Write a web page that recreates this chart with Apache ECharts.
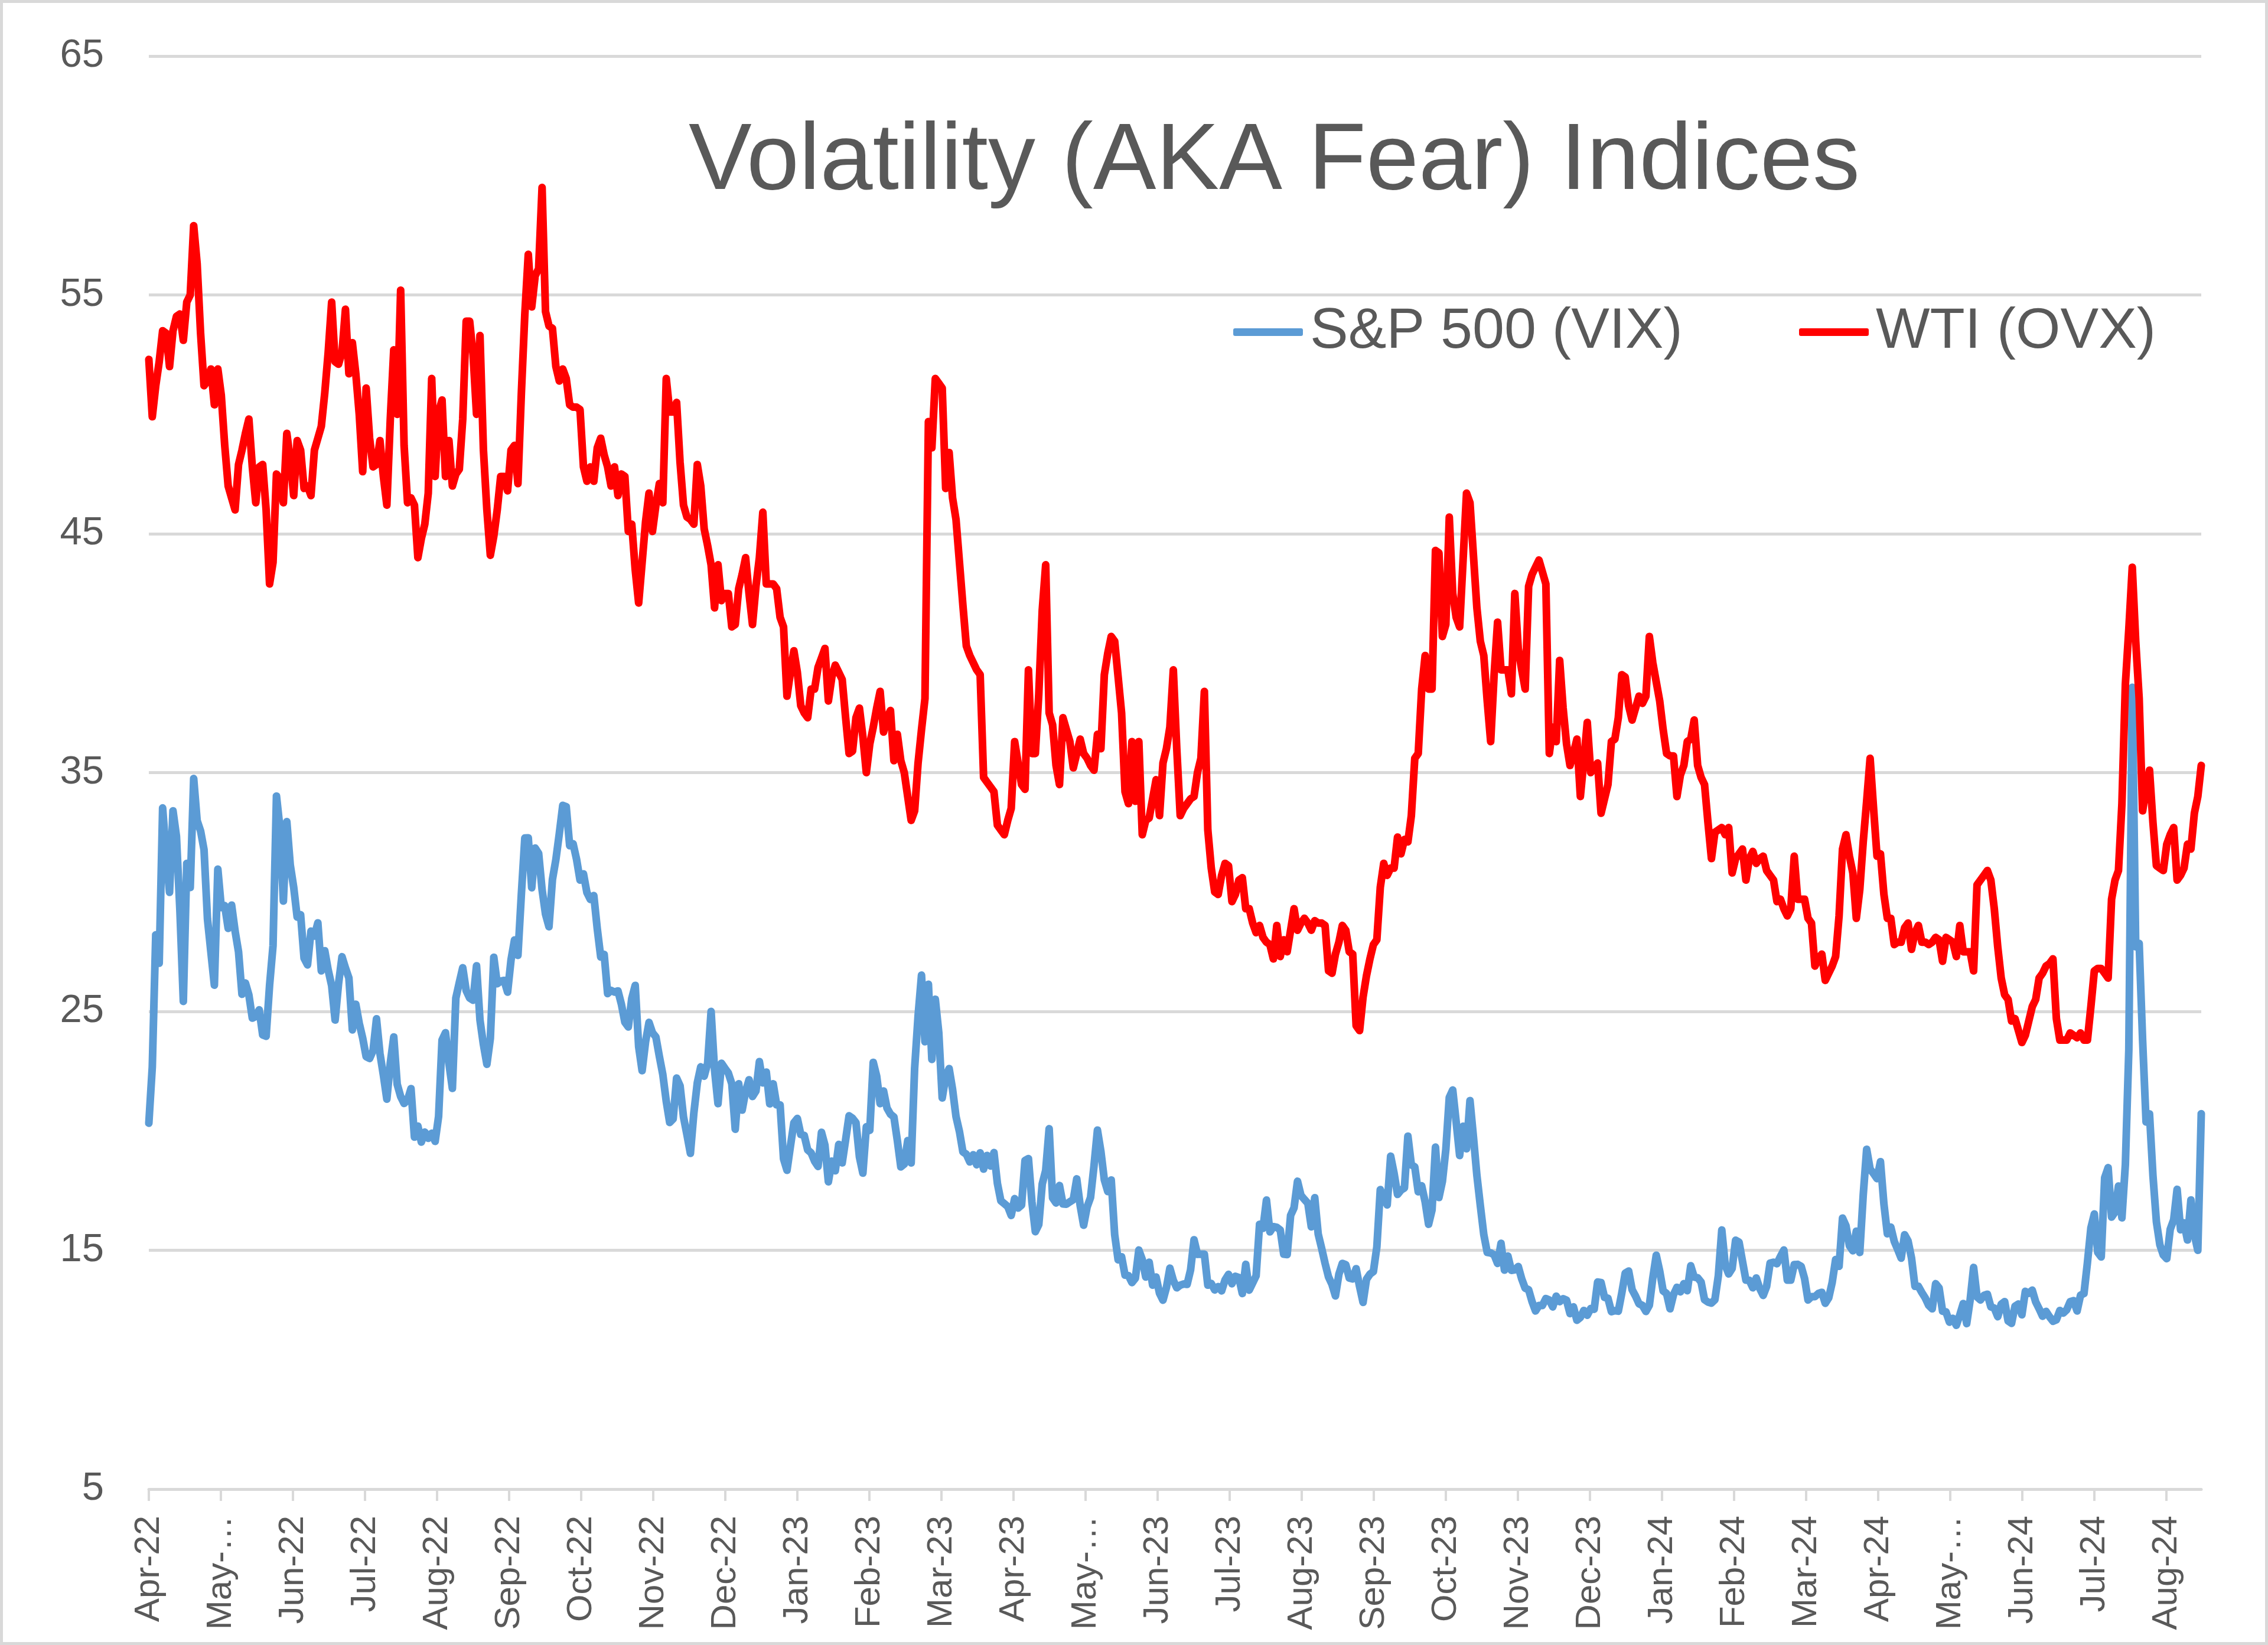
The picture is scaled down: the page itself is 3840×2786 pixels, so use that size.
<!DOCTYPE html>
<html><head><meta charset="utf-8">
<script src="https://cdn.jsdelivr.net/npm/echarts@6/dist/echarts.min.js"></script>
<style>html,body{margin:0;padding:0;background:#fff}#c{width:3840px;height:2786px}</style>
</head><body><div id="c"></div>
<script>
// Month tick labels along the x axis
const tickLabels = ["Apr-22","May-…","Jun-22","Jul-22","Aug-22","Sep-22","Oct-22","Nov-22","Dec-22",
  "Jan-23","Feb-23","Mar-23","Apr-23","May-…","Jun-23","Jul-23","Aug-23","Sep-23","Oct-23","Nov-23","Dec-23",
  "Jan-24","Feb-24","Mar-24","Apr-24","May-…","Jun-24","Jul-24","Aug-24"];
// spacing of the month ticks, in data points
const tickStep = 20.89;

// S&P 500 volatility (VIX), daily
const vix2022 = [
 20.32,22.68,28.21,27.02,33.52,31.60,29.99,33.40,
 32.34,29.25,25.42,31.20,30.19,34.75,32.99,32.56,31.77,28.87,27.47,26.10,30.96,29.35,29.43,28.48,29.45,28.37,27.50,25.72,26.19,
 25.69,24.72,24.79,25.07,24.02,23.96,26.09,27.75,34.02,32.69,29.62,32.95,31.13,30.19,28.95,29.05,27.23,26.95,28.36,28.16,28.71,
 26.70,27.54,26.73,26.08,24.64,26.17,27.29,26.82,26.40,24.23,25.30,24.50,23.88,23.11,23.03,23.36,24.69,23.24,22.33,21.33,
 22.84,23.93,21.95,21.44,21.15,21.29,21.77,19.74,20.20,19.53,19.95,19.69,19.90,19.56,20.60,23.80,24.11,22.82,21.78,25.56,26.21,26.83,25.87,
 25.56,25.47,26.91,24.64,23.61,22.79,23.87,27.27,26.16,26.27,26.30,25.81,27.16,27.99,27.35,29.92,32.26,32.27,30.18,31.84,31.62,
 30.10,29.07,28.55,30.52,31.36,32.45,33.63,33.57,31.94,32.02,31.37,30.50,30.76,29.98,29.69,29.85,28.46,27.28,27.39,25.75,25.88,
 25.81,25.86,25.30,24.55,24.35,25.54,26.09,23.53,22.52,23.73,24.54,24.11,23.93,23.12,22.36,21.24,20.35,20.50,22.21,21.89,20.58,
 19.84,19.06,20.75,22.01,22.68,22.29,22.83,25.00,22.55,21.14,22.83,22.62,22.42,21.97,20.07,21.97,20.87,21.65,22.14,21.44,21.67];
const vix2023 = [
 22.90,22.01,22.46,21.13,21.97,21.09,21.09,18.83,18.35,19.36,20.34,20.52,19.85,19.81,19.20,19.08,18.73,18.51,19.94,19.40,
 17.87,18.73,18.33,19.43,18.66,19.63,20.63,20.53,20.34,18.91,18.23,20.17,20.02,22.87,22.29,21.14,21.67,20.95,20.70,
 20.58,19.59,18.49,18.61,19.59,18.66,22.61,24.80,26.52,23.73,26.14,22.99,25.51,24.12,21.38,22.26,22.61,21.74,20.60,19.97,19.12,19.02,18.70,
 19.00,18.58,19.08,18.40,18.97,18.53,19.09,17.80,17.07,16.95,16.83,16.46,17.16,16.77,16.89,18.76,18.84,17.03,15.78,
 16.08,17.78,18.34,20.09,17.19,16.98,17.71,16.94,16.93,17.03,17.12,17.99,16.87,16.05,16.81,17.21,18.53,20.03,19.14,17.95,17.46,17.94,
 15.65,14.60,14.73,13.96,13.94,13.65,13.83,15.01,14.61,13.88,14.50,13.54,13.88,13.20,12.91,13.44,14.25,13.74,13.43,13.54,13.59,
 13.57,14.18,15.44,14.83,14.84,14.84,13.54,13.61,13.34,13.48,13.30,13.76,13.99,13.60,13.91,13.86,13.19,14.41,13.33,13.63,
 13.93,16.09,15.92,17.10,15.77,15.99,15.96,15.85,14.84,14.82,16.46,16.78,17.89,17.30,17.13,16.97,15.98,17.20,15.68,15.08,14.45,13.88,13.57,
 13.09,14.00,14.45,14.40,13.84,13.80,14.23,13.48,12.82,13.79,14.00,14.11,15.14,17.54,17.20,16.90,18.94,18.22,17.34,17.52,
 17.61,19.78,18.58,18.49,17.45,17.70,17.03,16.09,16.69,19.32,17.21,17.88,19.22,21.40,21.71,20.37,18.97,20.19,19.25,21.27,19.75,18.14,
 16.87,15.66,14.91,14.89,14.81,14.45,15.29,14.17,14.76,14.16,14.18,14.32,13.80,13.41,13.35,12.85,12.46,12.69,12.69,12.98,12.92,
 12.63,13.08,12.85,12.97,12.91,12.35,12.63,12.07,12.19,12.48,12.28,12.56,12.53,13.67,13.65,13.03,12.99,12.43,12.47,12.45];
const vix2024 = [
 13.20,14.04,14.13,13.35,13.08,12.76,12.69,12.44,12.70,13.84,14.79,14.13,13.30,13.19,12.55,13.14,13.45,13.26,13.60,13.31,14.35,
 13.88,13.85,13.67,12.93,12.83,12.79,12.93,13.93,15.85,14.38,14.01,14.24,15.42,15.34,14.54,13.75,13.74,13.43,13.84,13.40,
 13.11,13.49,14.46,14.50,14.44,14.74,15.01,13.75,13.75,14.40,14.41,14.33,13.82,12.92,13.06,13.06,13.19,13.24,12.78,13.01,
 13.65,14.61,14.33,16.35,16.03,15.19,14.98,15.80,14.91,17.31,19.23,18.40,18.21,18.00,18.71,16.94,15.69,15.97,15.37,15.03,14.67,15.65,
 15.39,14.68,13.49,13.49,13.23,13.00,12.69,12.55,13.60,13.42,12.45,12.42,11.99,12.15,11.86,12.29,12.77,11.93,12.92,14.28,13.05,12.92,
 13.11,13.16,12.63,12.58,12.22,12.74,12.85,12.04,11.94,12.66,12.75,12.30,13.28,13.20,13.33,12.84,12.55,12.24,12.44,
 12.22,12.03,12.09,12.48,12.37,12.51,12.85,12.89,12.46,13.12,13.19,14.48,15.93,16.52,14.91,14.72,18.04,18.46,16.39,16.60,17.69,16.36,
 18.59,23.39,38.57,27.71,27.85,23.79,20.37,20.71,18.12,16.19,15.23,14.80,14.65,15.88,16.27,17.55,15.86,16.15,15.43,17.11,15.65,15.00,
 20.72];

// WTI crude oil volatility (OVX), daily
const ovx2022 = [
 52.3,49.9,51.2,52.2,53.5,53.4,52.0,53.5,54.1,54.2,
 53.1,54.7,55.0,57.9,56.3,53.4,51.2,51.4,51.9,50.4,
 51.9,50.8,48.7,47.0,46.5,46.0,47.9,48.5,49.2,49.8,
 47.8,46.3,47.8,47.9,46.0,42.9,43.8,47.5,47.3,46.3,
 49.2,48.1,46.6,48.9,48.5,46.9,47.0,46.6,48.5,49.0,
 49.5,50.9,52.6,54.7,52.2,52.1,52.6,54.4,51.7,53.0,
 51.7,50.0,47.6,51.1,49.0,47.8,47.9,48.9,47.4,46.2,
 49.8,52.7,50.0,55.2,48.7,46.3,46.5,46.2,44.0,44.8,
 45.4,46.7,51.5,47.4,50.1,50.6,47.4,48.9,47.0,47.5,
 47.7,49.8,53.9,53.9,52.5,50.0,53.3,48.5,46.0,44.1,
 44.9,46.0,47.4,47.4,46.8,48.5,48.7,47.1,50.9,54.2,
 56.7,54.5,55.8,56.1,59.5,54.3,53.7,53.6,52.0,51.4,
 51.9,51.5,50.4,50.3,50.3,50.2,
 47.8,47.2,47.8,47.2,48.6,
 49.0,48.3,47.8,47.0,47.8,46.6,47.5,47.4,45.1,45.4,
 43.5,42.1,43.8,45.5,46.7,45.1,46.2,47.1,46.3,51.5,
 50.1,50.1,50.5,48.0,46.2,45.7,45.6,45.4,47.9,47.0,
 45.2,44.5,43.7,41.9,43.7,42.2,42.5,42.5,41.1,41.2,
 42.7,43.3,44.0,42.5,41.2,42.8];
const ovx2023 = [
 44.0,45.9,42.9,42.9,
 42.9,42.7,41.5,41.1,38.2,39.2,40.1,39.2,37.8,37.5,
 37.3,38.5,38.5,39.4,39.8,40.2,38.0,39.0,39.5,39.2,
 38.9,37.3,35.8,35.9,37.3,37.7,36.5,35.0,36.2,36.9,
 37.7,38.4,36.7,37.3,37.6,35.5,36.6,35.5,35.0,34.0,
 33.0,33.4,35.4,36.8,38.1,49.7,48.6,51.5,51.3,51.1,
 46.9,48.4,46.5,45.6,43.8,42.0,40.3,39.9,39.6,39.3,
 39.1,34.8,34.6,34.4,34.2,32.8,32.6,32.4,33.0,33.5,
 36.3,35.4,34.5,34.3,39.3,35.8,35.8,38.3,41.8,43.7,
 37.5,37.0,35.3,34.5,37.3,36.8,36.3,35.2,35.8,36.4,
 35.8,35.6,35.3,35.1,36.6,36.0,39.1,40.0,40.7,40.5,
 39.0,37.5,34.2,33.7,36.3,33.8,36.3,32.4,33.0,33.1,
 33.9,34.7,33.2,35.4,36.0,36.9,39.3,36.0,33.2,33.5,
 33.7,33.9,34.0,35.0,35.6,38.4,32.6,31.0,30.0,29.9,
 30.7,31.2,31.1,29.6,29.9,30.5,30.6,29.3,29.3,28.7,
 28.3,28.6,28.1,27.9,27.8,27.2,28.6,27.3,28.0,27.5,
 28.4,29.3,28.4,28.7,28.9,28.7,28.4,28.8,28.7,
 28.7,28.6,
 26.7,26.6,27.4,27.9,28.6,28.4,27.5,27.4,24.4,24.2,
 25.6,26.5,27.2,27.8,28.0,30.2,31.2,30.7,31.0,31.0,
 32.3,31.6,32.2,32.1,33.2,35.6,35.8,38.5,39.9,38.5,
 38.5,44.3,44.2,40.7,41.2,45.7,42.5,41.5,41.1,43.9,
 46.7,46.3,44.1,41.9,40.5,39.9,38.0,36.3,39.1,41.3,
 39.3,39.3,39.3,38.3,42.5,40.2,39.3,38.5,42.8,43.3,
 43.6,43.9,43.4,42.9,35.8,36.9,36.3,39.7,37.7,36.2,
 35.3,35.8,36.4,34.0,35.5,37.1,35.0,35.2,35.4,33.3,
 33.9,34.5,36.3,36.4,37.3];
const ovx2024 = [
 39.1,39.0,37.8,37.2,37.7,
 38.2,37.9,38.2,40.7,39.6,38.8,38.0,36.8,35.8,35.7,
 35.7,34.0,34.9,35.3,36.3,36.4,37.2,35.3,34.8,34.5,
 32.9,31.4,32.5,32.6,32.7,32.4,32.7,30.8,31.4,31.6,
 31.8,30.5,31.4,31.7,31.2,31.4,31.5,30.9,30.7,30.5,
 29.6,29.7,29.3,29.0,29.3,31.5,29.7,29.7,29.7,28.9,
 28.7,26.9,27.2,27.4,26.3,26.6,26.9,27.3,29.0,31.8,
 32.4,31.5,30.8,28.9,30.1,32.1,33.8,35.6,33.5,31.5,
 31.6,29.9,28.9,28.9,27.8,27.9,27.9,28.5,28.7,27.6,
 28.3,28.6,27.9,27.9,27.8,27.9,28.1,28.0,27.1,28.1,
 28.0,27.9,27.3,28.6,27.5,27.5,27.5,26.7,30.3,30.5,
 30.7,30.9,30.5,29.3,27.7,26.4,25.7,25.5,24.6,24.7,
 24.2,23.7,24.0,24.6,25.2,25.5,26.4,26.6,26.9,27.0,
 27.2,24.7,23.8,23.8,23.8,24.1,24.0,23.9,24.1,23.8,
 23.8,25.2,26.7,26.8,26.8,26.6,26.4,29.7,30.5,30.9,
 33.7,38.7,41.0,43.6,40.5,38.1,33.4,34.3,35.1,32.9,
 31.1,31.0,30.9,32.0,32.4,32.7,30.5,30.7,31.0,32.0,
 31.8,33.3,34.0,35.3];

const vix = vix2022.concat(vix2023, vix2024);
const ovx = ovx2022.concat(ovx2023, ovx2024);
const n = Math.max(vix.length, ovx.length);
const tickValues = tickLabels.map((_, k) => +(k * tickStep).toFixed(3));
const labelFor = (val) => {
  const k = Math.round(val / tickStep);
  return Math.abs(val - k * tickStep) < 0.05 && tickLabels[k] ? tickLabels[k] : '';
};
const FONT = 'Liberation Sans';
const TXT = '#595959';
const GRID = '#d9d9d9';

const chart = echarts.init(document.getElementById('c'), null, {renderer: 'canvas'});
chart.setOption({
  backgroundColor: '#ffffff',
  animation: false,
  title: {
    text: 'Volatility (AKA Fear) Indices',
    left: 1166, top: 196, padding: 0,
    textStyle: {fontFamily: FONT, fontSize: 160, fontWeight: 'normal', color: TXT}
  },
  legend: [
    {data: ['S&P 500 (VIX)'], left: 2088, top: 514, padding: 0, icon: 'roundRect',
     itemWidth: 118, itemHeight: 13,
     textStyle: {fontFamily: FONT, fontSize: 97, color: TXT, padding: [0, 0, 0, 7]}},
    {data: ['WTI (OVX)'], left: 3046, top: 514, padding: 0, icon: 'roundRect',
     itemWidth: 118, itemHeight: 13,
     textStyle: {fontFamily: FONT, fontSize: 97, color: TXT, padding: [0, 0, 0, 7]}}
  ],
  grid: {left: 252, right: 113, top: 95, bottom: 264, containLabel: false},
  xAxis: {
    type: 'value', min: 0, max: n - 1,
    axisLine: {show: true, onZero: false, lineStyle: {color: GRID, width: 5}},
    axisTick: {show: true, customValues: tickValues, length: 20, lineStyle: {color: GRID, width: 4}},
    axisLabel: {
      customValues: tickValues, rotate: 90, margin: 45,
      showMinLabel: true, showMaxLabel: true, hideOverlap: false,
      fontFamily: FONT, fontSize: 60, color: TXT,
      formatter: labelFor
    },
    splitLine: {show: false}
  },
  yAxis: {
    type: 'value', min: 5, max: 65, interval: 10,
    axisLine: {show: false}, axisTick: {show: false},
    axisLabel: {fontFamily: FONT, fontSize: 67, color: TXT, margin: 76},
    splitLine: {show: true, lineStyle: {color: GRID, width: 5}}
  },
  series: [
    {name: 'S&P 500 (VIX)', type: 'line', data: vix.map((v, i) => [i, v]), color: '#5B9BD5',
     showSymbol: false, symbol: 'none', smooth: false,
     lineStyle: {width: 13, color: '#5B9BD5', join: 'round', cap: 'round'}},
    {name: 'WTI (OVX)', type: 'line', data: ovx.map((v, i) => [i, v]), color: '#FF0000',
     showSymbol: false, symbol: 'none', smooth: false,
     lineStyle: {width: 13, color: '#FF0000', join: 'round', cap: 'round'}}
  ],
  graphic: [
    {type: 'rect', silent: true, z: -1,
     shape: {x: 2.5, y: 2.5, width: 3835, height: 2781},
     style: {fill: 'none', stroke: GRID, lineWidth: 5}}
  ]
});
</script>
</body></html>
